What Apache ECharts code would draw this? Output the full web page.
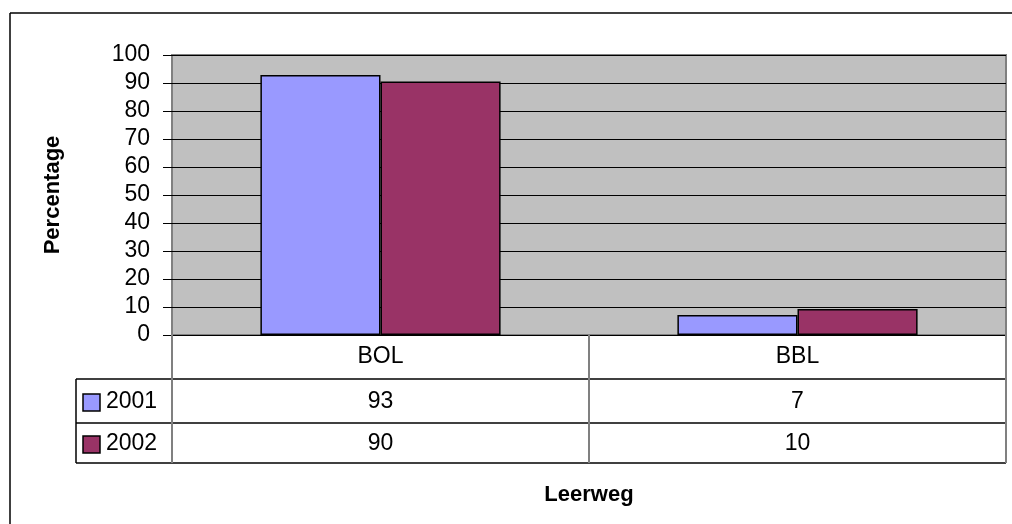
<!DOCTYPE html>
<html>
<head>
<meta charset="utf-8">
<script src="https://cdn.jsdelivr.net/npm/echarts@6/dist/echarts.min.js"></script>
<style>
html,body{margin:0;padding:0;background:#fff;}
#c{width:1012px;height:524px;}
</style>
</head>
<body>
<div id="c"></div>
<script>
// ---- data ----
var categories = ['BOL', 'BBL'];
var seriesNames = ['2001', '2002'];
var values2001 = [92.9, 7.1];
var values2002 = [90.5, 9.3];
var table2001 = ['93', '7'];
var table2002 = ['90', '10'];
var yTicks = [0, 100, 10]; // min, max, interval
var colors = ['#9999FF', '#993366'];

// ---- layout ----
var FONT = '"Liberation Sans", Arial, sans-serif';
var GL = 172, GR = 1006, GT = 55, GB = 335;
var ROW0 = 379, ROW1 = 423, ROW2 = 463, TL = 76;
var FS = 23;

var chart = echarts.init(document.getElementById('c'), null, {renderer: 'canvas'});
chart.setOption({
  animation: false,
  backgroundColor: '#ffffff',
  grid: {
    left: GL, right: 1012 - GR, top: GT, bottom: 524 - GB,
    show: true, backgroundColor: '#C0C0C0', borderColor: '#808080', borderWidth: 2
  },
  xAxis: {
    type: 'category',
    data: categories,
    axisLine: {show: false},
    axisTick: {show: false},
    axisLabel: {color: '#000', fontFamily: FONT, fontSize: FS, margin: 10},
    name: 'Leerweg',
    nameLocation: 'middle',
    nameGap: 149,
    nameTextStyle: {color: '#000', fontFamily: FONT, fontSize: 22, fontWeight: 'bold'}
  },
  yAxis: {
    type: 'value',
    min: yTicks[0], max: yTicks[1], interval: yTicks[2],
    axisLine: {show: false},
    axisTick: {show: true, inside: false, length: 9, lineStyle: {color: '#000', width: 1}},
    axisLabel: {color: '#000', fontFamily: FONT, fontSize: FS, margin: 22},
    splitLine: {show: true, lineStyle: {color: '#000', width: 1}},
    name: 'Percentage',
    nameLocation: 'middle',
    nameRotate: 90,
    nameGap: 108,
    nameTextStyle: {color: '#000', fontFamily: FONT, fontSize: 22, fontWeight: 'bold'}
  },
  series: [
    {name: seriesNames[0], type: 'bar', data: values2001, barGap: '0%', barCategoryGap: '42.4%',
     itemStyle: {color: colors[0], borderColor: '#000', borderWidth: 1.5}},
    {name: seriesNames[1], type: 'bar', data: values2002, barGap: '0%', barCategoryGap: '42.4%',
     itemStyle: {color: colors[1], borderColor: '#000', borderWidth: 1.5}}
  ]
});

// ---- data table drawn under the plot ----
var g = [];
function line(x1, y1, x2, y2, c, w) {
  g.push({type: 'line', silent: true, z: 10, shape: {x1: x1, y1: y1, x2: x2, y2: y2},
          style: {stroke: c, lineWidth: w}});
}
function txt(x, y, s, align) {
  g.push({type: 'text', silent: true, z: 11, x: x, y: y,
          style: {text: s, fill: '#000', font: FS + 'px ' + FONT, textAlign: align, textVerticalAlign: 'middle'}});
}
// outer chart border
line(10, 13, 1012, 13, '#000', 1.5);
line(10, 13, 10, 524, '#000', 1.5);
// horizontal table lines
line(TL, ROW0, GR, ROW0, '#000', 1.5);
line(TL, ROW1, GR, ROW1, '#000', 1.5);
line(TL, ROW2, GR, ROW2, '#000', 1.5);
line(TL, ROW0, TL, ROW2, '#000', 1.5);
// vertical separators
line(GL, GB, GL, ROW2, '#808080', 2);
line(GR, GB, GR, ROW2, '#808080', 2);
var sep = (chart.convertToPixel({xAxisIndex: 0}, categories[0]) + chart.convertToPixel({xAxisIndex: 0}, categories[1])) / 2;
line(sep, GB, sep, ROW2, '#808080', 2);
// legend keys
var rowsY = [(ROW0 + ROW1) / 2 + 1, (ROW1 + ROW2) / 2 + 1];
var tables = [table2001, table2002];
for (var r = 0; r < 2; r++) {
  g.push({type: 'rect', silent: true, z: 11, shape: {x: 83, y: rowsY[r] - 8, width: 17, height: 17},
          style: {fill: colors[r], stroke: '#000', lineWidth: 1.5}});
  txt(106, rowsY[r], seriesNames[r], 'left');
  for (var i = 0; i < categories.length; i++) {
    txt(chart.convertToPixel({xAxisIndex: 0}, categories[i]), rowsY[r], tables[r][i], 'center');
  }
}
chart.setOption({graphic: g});
</script>
</body>
</html>
